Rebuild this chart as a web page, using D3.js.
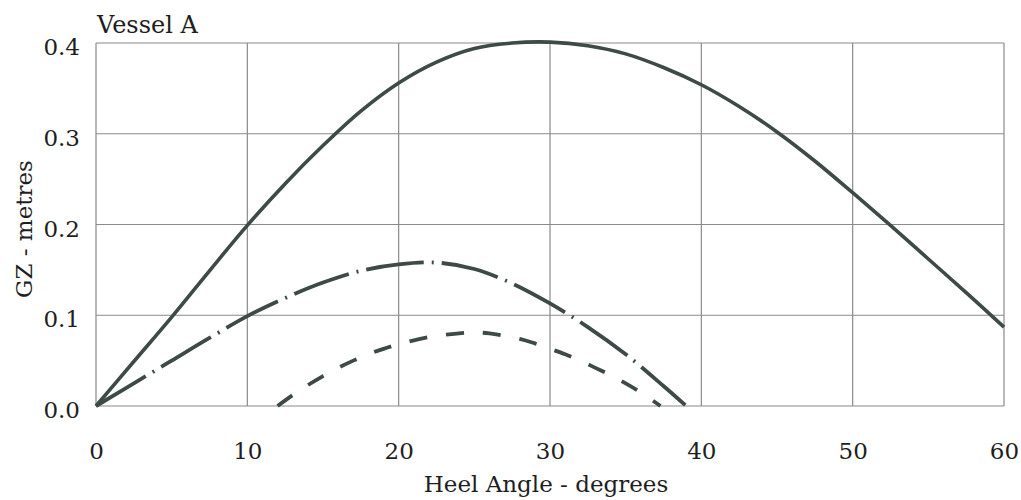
<!DOCTYPE html>
<html><head><meta charset="utf-8">
<script src="https://cdn.jsdelivr.net/npm/d3@7"></script>
<style>body{margin:0;background:#fff;overflow:hidden}</style>
</head><body>
<svg id="c" width="1021" height="500"></svg>
<script>
const title = "Vessel A";
const xLabel = "Heel Angle - degrees";
const yLabel = "GZ - metres";
const xTicks = [0, 10, 20, 30, 40, 50, 60];
const yTicks = [0.0, 0.1, 0.2, 0.3, 0.4];

const solidAngle = [0, 2.5, 5, 7.5, 10, 12.5, 15, 17.5, 20, 22.5, 25, 27.5, 30, 32.5, 35, 37.5, 40, 42.5, 45, 47.5, 50, 52.5, 55, 57.5, 60];
const solidGZ    = [0, 0.049, 0.098, 0.149, 0.199, 0.245, 0.287, 0.325, 0.356, 0.379, 0.394, 0.400, 0.401, 0.397, 0.388, 0.373, 0.354, 0.330, 0.302, 0.270, 0.235, 0.199, 0.162, 0.125, 0.087];

const dashDotAngle = [0, 2.5, 5, 7.5, 10, 12.5, 15, 17.5, 20, 22.5, 25, 27.5, 30, 32.5, 35, 37.5, 39];
const dashDotGZ    = [0, 0.025, 0.050, 0.075, 0.099, 0.119, 0.136, 0.149, 0.156, 0.158, 0.151, 0.135, 0.113, 0.087, 0.057, 0.022, 0];

const dashAngle = [12, 13, 14, 15, 16, 17, 18, 19, 20, 22, 24, 25, 26, 28, 29, 30, 31, 32, 33, 34, 35, 36, 37.3];
const dashGZ    = [0, 0.012, 0.023, 0.033, 0.042, 0.050, 0.057, 0.063, 0.068, 0.076, 0.080, 0.081, 0.080, 0.074, 0.069, 0.063, 0.057, 0.050, 0.042, 0.034, 0.025, 0.015, 0];

const svg = d3.select("#c");
const font = "'DejaVu Serif', serif";
const ink = "#1e1e1e";
const lineColor = "#3d4a47";

const x = d3.scaleLinear().domain([0, 60]).range([96, 1004]);
const y = d3.scaleLinear().domain([0, 0.4]).range([406, 43]);

// gridlines
svg.append("g").selectAll("line").data(xTicks).join("line")
  .attr("x1", d => x(d)).attr("x2", d => x(d))
  .attr("y1", y(0)).attr("y2", y(0.4))
  .attr("stroke", "#8a8a8a").attr("stroke-width", 1.2);
svg.append("g").selectAll("line").data(yTicks).join("line")
  .attr("x1", x(0)).attr("x2", x(60))
  .attr("y1", d => y(d)).attr("y2", d => y(d))
  .attr("stroke", "#8a8a8a").attr("stroke-width", 1.2);

// axes (labels only)
const xAxis = svg.append("g").attr("transform", `translate(0,${y(0)})`)
  .call(d3.axisBottom(x).tickValues(xTicks).tickFormat(d3.format("d")).tickSize(0).tickPadding(0));
xAxis.select(".domain").remove();
xAxis.selectAll("text").attr("font-family", font).attr("font-size", 23).attr("fill", ink)
  .attr("dy", null).attr("y", 53);

const yAxis = svg.append("g").attr("transform", `translate(${x(0)},0)`)
  .call(d3.axisLeft(y).tickValues(yTicks).tickFormat(d3.format(".1f")).tickSize(0).tickPadding(16));
yAxis.select(".domain").remove();
yAxis.selectAll("text").attr("font-family", font).attr("font-size", 23).attr("fill", ink)
  .attr("dy", "0.5em");

// lines
const line = d3.line().x(d => x(d[0])).y(d => y(d[1])).curve(d3.curveCatmullRom.alpha(0.5));
const zip = (a, b) => a.map((v, i) => [v, b[i]]);

svg.append("path").datum(zip(solidAngle, solidGZ)).attr("d", line)
  .attr("fill", "none").attr("stroke", lineColor).attr("stroke-width", 3.6);
svg.append("path").datum(zip(dashDotAngle, dashDotGZ)).attr("d", line)
  .attr("fill", "none").attr("stroke", lineColor).attr("stroke-width", 3.8)
  .attr("stroke-dasharray", "58,8,2,8");
svg.append("path").datum(zip(dashAngle, dashGZ)).attr("d", line)
  .attr("fill", "none").attr("stroke", lineColor).attr("stroke-width", 3.8)
  .attr("stroke-dasharray", "18,19");

// titles
svg.append("text").attr("x", 97).attr("y", 33).text(title)
  .attr("font-family", font).attr("font-size", 24).attr("fill", ink);
svg.append("text").attr("x", 546).attr("y", 492).attr("text-anchor", "middle").text(xLabel)
  .attr("font-family", font).attr("font-size", 23).attr("fill", ink);
svg.append("text").attr("transform", "translate(32,229) rotate(-90)").attr("text-anchor", "middle").text(yLabel)
  .attr("font-family", font).attr("font-size", 23).attr("fill", ink);
</script>
</body></html>
